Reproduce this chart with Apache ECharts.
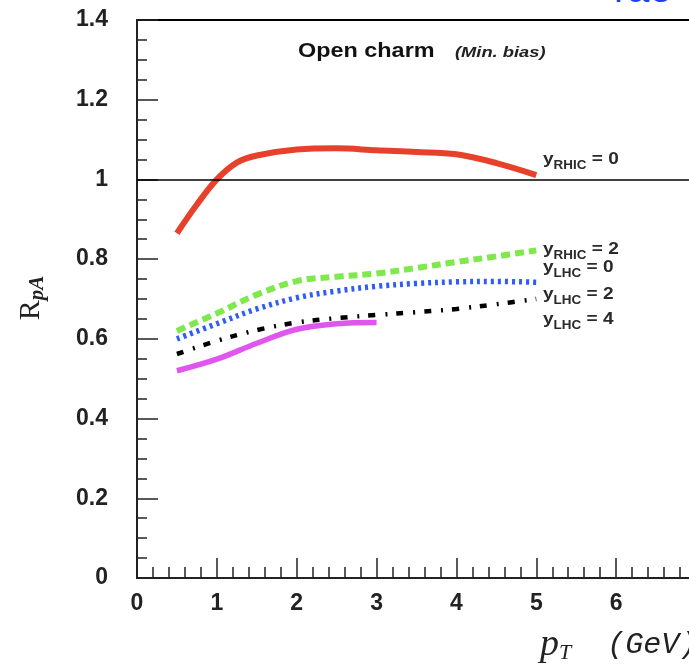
<!DOCTYPE html>
<html>
<head>
<meta charset="utf-8">
<script src="https://cdn.jsdelivr.net/npm/echarts@6/dist/echarts.min.js"></script>
<style>
  html, body { margin: 0; padding: 0; background: #fff; }
  #chart { width: 689px; height: 664px; }
</style>
</head>
<body>
<div id="chart"></div>
<script>
// Nuclear modification factor R_pA of open charm vs transverse momentum
const ptRhic0  = [0.5, 0.75, 1.0, 1.25, 1.5, 2.0, 2.5, 3.0, 3.5, 4.0, 4.5, 5.0];
const rpaRhic0 = [0.865, 0.937, 1.0, 1.042, 1.060, 1.075, 1.078, 1.073, 1.069, 1.063, 1.041, 1.011];

const ptCommon = [0.5, 1.0, 1.5, 2.0, 2.5, 3.0, 3.5, 4.0, 4.5, 5.0];
const rpaRhic2 = [0.620, 0.664, 0.711, 0.745, 0.756, 0.764, 0.778, 0.793, 0.807, 0.822];
const rpaLhc0  = [0.600, 0.638, 0.675, 0.703, 0.720, 0.732, 0.739, 0.743, 0.744, 0.742];
const rpaLhc2  = [0.562, 0.595, 0.622, 0.641, 0.652, 0.660, 0.667, 0.675, 0.687, 0.700];

const ptLhc4   = [0.5, 1.0, 1.5, 2.0, 2.5, 3.0];
const rpaLhc4  = [0.520, 0.549, 0.589, 0.624, 0.638, 0.641];

const curveLabels = [
  { sub: 'RHIC', val: '0', baseline: 165 },
  { sub: 'RHIC', val: '2', baseline: 255 },
  { sub: 'LHC',  val: '0', baseline: 273 },
  { sub: 'LHC',  val: '2', baseline: 300 },
  { sub: 'LHC',  val: '4', baseline: 325 }
];

const zip = (xs, ys) => xs.map((x, i) => [x, ys[i]]);

const SANS = '"Liberation Sans", Arial, Helvetica, sans-serif';
const SERIF = '"Liberation Serif", "Times New Roman", serif';
const MONO = '"Liberation Mono", "Courier New", monospace';

const chart = echarts.init(document.getElementById('chart'), null, { renderer: 'canvas' });

function lineSeries(name, data, color, width, type, extra) {
  return Object.assign({
    name: name,
    type: 'line',
    data: data,
    smooth: 0.35,
    showSymbol: false,
    symbol: 'none',
    lineStyle: { color: color, width: width, type: type, cap: 'butt' },
    z: 3
  }, extra || {});
}

const labelColor = '#2a2a2a';
const labelGraphics = curveLabels.map(l => ({
  type: 'text',
  x: 543,
  y: l.baseline - 17.4,
  scaleX: 1.12,
  style: {
    text: '{y|y}{s|' + l.sub + '}{v| = ' + l.val + '}',
    fill: labelColor,
    rich: {
      y: { fontFamily: SANS, fontWeight: 'bold', fontSize: 17, lineHeight: 24, fill: labelColor },
      s: { fontFamily: SANS, fontWeight: 'bold', fontSize: 12, lineHeight: 12, verticalAlign: 'bottom', fill: labelColor },
      v: { fontFamily: SANS, fontWeight: 'bold', fontSize: 17, lineHeight: 24, fill: labelColor }
    }
  }
}));

const option = {
  animation: false,
  backgroundColor: '#fff',
  grid: {
    left: 137, top: 20, right: -7, bottom: 86,
    containLabel: false,
    outerBoundsMode: 'none',
    show: true, borderColor: '#000', borderWidth: 2, backgroundColor: '#fff'
  },
  xAxis: {
    type: 'value', min: 0, max: 7, interval: 1,
    axisLine: { show: true, lineStyle: { color: '#222', width: 2 } },
    axisTick: { show: true, inside: true, length: 20, lineStyle: { color: '#222', width: 1.5 } },
    minorTick: { show: true, splitNumber: 5, length: 11, lineStyle: { color: '#222', width: 1.5 } },
    splitLine: { show: false },
    axisLabel: { margin: 14, showMaxLabel: true, hideOverlap: false, fontFamily: SANS, fontWeight: 'bold', fontSize: 23, color: '#222' }
  },
  yAxis: {
    type: 'value', min: 0, max: 1.4, interval: 0.2,
    axisLine: { show: true, lineStyle: { color: '#222', width: 2 } },
    axisTick: { show: true, inside: true, length: 21, lineStyle: { color: '#222', width: 1.5 } },
    minorTick: { show: true, splitNumber: 4, length: 10, lineStyle: { color: '#222', width: 1.5 } },
    splitLine: { show: false },
    axisLabel: { margin: 29, fontFamily: SANS, fontWeight: 'bold', fontSize: 23, color: '#222' }
  },
  series: [
    lineSeries('y_RHIC = 0', zip(ptRhic0, rpaRhic0), '#e8412b', 6, 'solid', {
      markLine: {
        silent: true, symbol: 'none', label: { show: false },
        lineStyle: { color: '#000', width: 1.5, type: 'solid' },
        data: [{ yAxis: 1 }]
      }
    }),
    lineSeries('y_RHIC = 2', zip(ptCommon, rpaRhic2), '#7fe84c', 6, [9, 5]),
    lineSeries('y_LHC = 0', zip(ptCommon, rpaLhc0), '#2f5cf7', 5.5, [3, 4]),
    lineSeries('y_LHC = 2', zip(ptCommon, rpaLhc2), '#000000', 4.5, [7, 10, 2, 9]),
    lineSeries('y_LHC = 4', zip(ptLhc4, rpaLhc4), '#e055ee', 5.5, 'solid')
  ],
  graphic: [
    {
      type: 'text', x: 298, y: 41.6, scaleX: 1.17,
      style: { text: 'Open charm', fontFamily: SANS, fontWeight: 'bold', fontSize: 20, lineHeight: 20, fill: '#111' }
    },
    {
      type: 'text', x: 455, y: 45.7, scaleX: 1.22,
      style: { text: '(Min. bias)', fontFamily: SANS, fontWeight: 'bold', fontStyle: 'italic', fontSize: 15, lineHeight: 15, fill: '#222' }
    },
    {
      type: 'text', x: 31, y: 298, rotation: Math.PI / 2,
      style: {
        text: '{r|R}{s|pA}', align: 'center', verticalAlign: 'middle',
        rich: {
          r: { fontFamily: SERIF, fontSize: 30, lineHeight: 34, fill: '#222' },
          s: { fontFamily: SERIF, fontStyle: 'italic', fontWeight: 'bold', fontSize: 21, lineHeight: 21, verticalAlign: 'bottom', fill: '#222' }
        }
      }
    },
    {
      type: 'text', x: 540, y: 626,
      style: {
        text: '{p|p}{t|T}{g|  (GeV)}',
        rich: {
          p: { fontFamily: SERIF, fontStyle: 'italic', fontSize: 38, lineHeight: 38, fill: '#222' },
          t: { fontFamily: SERIF, fontStyle: 'italic', fontSize: 22, lineHeight: 22, verticalAlign: 'bottom', fill: '#222' },
          g: { fontFamily: MONO, fontStyle: 'italic', fontSize: 30, lineHeight: 38, fill: '#222' }
        }
      }
    },
    {
      type: 'text', x: 614, y: -9,
      style: { text: 'rae', fontFamily: SANS, fontSize: 40, lineHeight: 40, verticalAlign: 'middle', fill: '#1f3ff5' }
    }
  ].concat(labelGraphics)
};

chart.setOption(option);
</script>
</body>
</html>
